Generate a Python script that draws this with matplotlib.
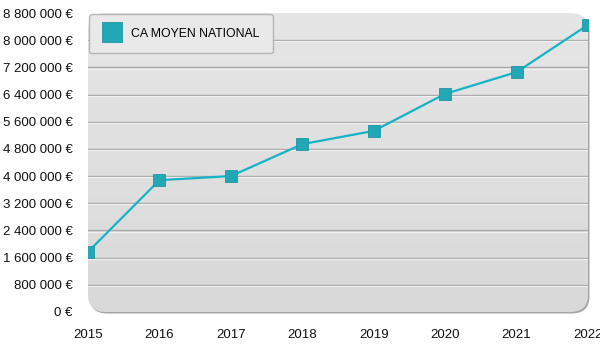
import numpy as np
import matplotlib.pyplot as plt
from matplotlib.patches import FancyBboxPatch
from matplotlib.colors import LinearSegmentedColormap
from matplotlib.ticker import FuncFormatter

years = [2015, 2016, 2017, 2018, 2019, 2020, 2021, 2022]
ca_moyen = [1770000, 3880000, 4000000, 4940000, 5330000, 6420000, 7060000, 8450000]
y_ticks = [0, 800000, 1600000, 2400000, 3200000, 4000000, 4800000,
           5600000, 6400000, 7200000, 8000000, 8800000]
series_label = "CA MOYEN NATIONAL"

plt.rcParams['font.family'] = ['Liberation Sans', 'DejaVu Sans']

fig = plt.figure(figsize=(6, 3.5), dpi=100)
ax = fig.add_axes([88 / 600, 1 - 312 / 350, 500 / 600, 299 / 350])
ax.set_xlim(years[0], years[-1])
ax.set_ylim(y_ticks[0], y_ticks[-1])

# rounded grey panel: a darker copy shifted right/down acts as the border
style = "round,pad=0,rounding_size=0.035"
shadow = FancyBboxPatch((0.003, -0.005), 1, 1, boxstyle=style,
                        transform=ax.transAxes, facecolor='#a6a6a6',
                        edgecolor='none', zorder=0.1, clip_on=False,
                        mutation_aspect=500 / 299)
ax.add_patch(shadow)
box = FancyBboxPatch((0, 0), 1, 1, boxstyle=style,
                     transform=ax.transAxes, facecolor='none',
                     edgecolor='none', zorder=0.5, clip_on=False,
                     mutation_aspect=500 / 299)
ax.add_patch(box)
grad = np.linspace(0, 1, 256).reshape(-1, 1)
img = ax.imshow(grad, extent=[0, 1, 0, 1], transform=ax.transAxes,
                cmap=LinearSegmentedColormap.from_list('bg', ['#d9d9d9', '#e6e6e6']),
                origin='lower', aspect='auto', zorder=0.2)
img.set_clip_path(box)
ax.set_aspect('auto')

for s in ax.spines.values():
    s.set_visible(False)

for t in y_ticks[1:-1]:
    ax.axhline(t, color='#a9a9a9', lw=1.0, zorder=1)
    ax.axhline(t - 35000, color='#f2f2f2', lw=0.8, zorder=1)

ax.plot(years, ca_moyen, color='#14b3c6', lw=1.6, zorder=3,
        marker='s', markersize=8, markerfacecolor='#22a7b4',
        markeredgecolor='#1d97a3', markeredgewidth=0.6, label=series_label)

ax.set_xticks(years)
ax.set_yticks(y_ticks)
ax.yaxis.set_major_formatter(FuncFormatter(
    lambda v, p: f"{int(v):,} €".replace(",", " ")))
ax.tick_params(length=0, labelsize=9.5, colors='#111111')
ax.tick_params(axis='y', pad=11)
ax.tick_params(axis='x', pad=12)

leg = ax.legend(loc='upper left', bbox_to_anchor=(0.0, 1.0), fontsize=8.8,
                frameon=True, fancybox=True, edgecolor='#b5b5b5',
                facecolor='#e9e9e9', framealpha=1, handlelength=1.6,
                handletextpad=0.7, borderpad=1.1, borderaxespad=0.1,
                markerscale=1.85)
leg.get_lines()[0].set_linestyle('none')
leg.get_frame().set_linewidth(1.0)

fig.savefig('out.png', dpi=100)
